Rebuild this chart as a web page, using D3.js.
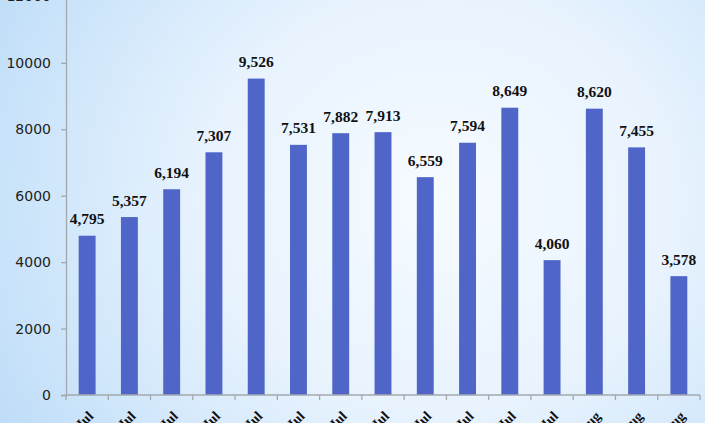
<!DOCTYPE html>
<html>
<head>
<meta charset="utf-8">
<script src="https://cdn.jsdelivr.net/npm/d3@7"></script>
<style>
  body { margin: 0; padding: 0; overflow: hidden; }
</style>
</head>
<body>
<div id="chart"></div>
<script>
var width = 705, height = 423

// data
var days = ["20-Jul", "21-Jul", "22-Jul", "23-Jul", "24-Jul", "25-Jul", "26-Jul", "27-Jul",
  "28-Jul", "29-Jul", "30-Jul", "31-Jul", "01-Aug", "02-Aug", "03-Aug"]
var counts = [4795, 5357, 6194, 7307, 9526, 7531, 7882, 7913, 6559, 7594, 8649, 4060, 8620, 7455, 3578]
var yTicks = [0, 2000, 4000, 6000, 8000, 10000, 12000]

var svg = d3.select("#chart").append("svg")
    .attr("width", width).attr("height", height)

var defs = svg.append("defs")
var grad = defs.append("radialGradient").attr("id", "bg")
    .attr("gradientUnits", "userSpaceOnUse")
    .attr("cx", 440).attr("cy", 200).attr("r", 520)
    .attr("gradientTransform", "translate(440,200) scale(1,0.9) translate(-440,-200)")
grad.append("stop").attr("offset", "0%").attr("stop-color", "#f6fbff")
grad.append("stop").attr("offset", "45%").attr("stop-color", "#e8f3fe")
grad.append("stop").attr("offset", "100%").attr("stop-color", "#bcdcf8")

svg.append("rect")
    .attr("x", 0).attr("y", 0)
    .attr("width", width).attr("height", height)
    .style("fill", "url(#bg)")

var x = d3.scaleBand()
    .domain(days)
    .range([66, 700])
    .paddingInner(0.6)
    .paddingOuter(0.3)

var y = d3.scaleLinear()
    .domain([0, 12000])
    .range([395, -3.6])

var axisColor = "#a3a8ae"

// y axis
var yAxis = svg.append("g")
    .attr("transform", "translate(66,0)")
    .call(d3.axisLeft(y).tickValues(yTicks).tickSize(5).tickPadding(10).tickFormat(d3.format("d")))
yAxis.select(".domain").attr("stroke", axisColor).attr("stroke-width", 1.3)
yAxis.selectAll(".tick line").attr("stroke", axisColor).attr("stroke-width", 1.3)
yAxis.selectAll(".tick text")
    .style("font-family", "'DejaVu Sans', sans-serif")
    .style("font-size", "14px")
    .style("fill", "#222")

// bars
svg.append("g").selectAll("rect")
    .data(counts)
    .enter().append("rect")
    .attr("x", function(d, i) { return x(days[i]) })
    .attr("y", function(d) { return y(d) })
    .attr("width", x.bandwidth())
    .attr("height", function(d) { return y(0) - y(d) })
    .style("fill", "#4f66c8")

// value labels
svg.append("g").selectAll("text")
    .data(counts)
    .enter().append("text")
    .attr("x", function(d, i) { return x(days[i]) + x.bandwidth() / 2 })
    .attr("y", function(d) { return y(d) - 11.5 })
    .attr("text-anchor", "middle")
    .style("font-family", "'Liberation Serif', 'Times New Roman', serif")
    .style("font-weight", "bold")
    .style("font-size", "15.5px")
    .style("fill", "#111")
    .text(function(d) { return d3.format(",")(d) })

// x axis with ticks between categories
var step = x.step()
var xAxis = svg.append("g")
xAxis.append("line")
    .attr("x1", 66).attr("x2", 700)
    .attr("y1", y(0)).attr("y2", y(0))
    .attr("stroke", axisColor).attr("stroke-width", 1.3)
var bounds = days.map(function(d) { return x(d) - (step - x.bandwidth()) / 2 })
bounds.push(x.range()[1])
xAxis.selectAll(".xt")
    .data(bounds)
    .enter().append("line")
    .attr("x1", function(d) { return d }).attr("x2", function(d) { return d })
    .attr("y1", y(0)).attr("y2", y(0) + 5)
    .attr("stroke", axisColor).attr("stroke-width", 1.3)

xAxis.selectAll(".xl")
    .data(days)
    .enter().append("text")
    .attr("transform", function(d) {
        return "translate(" + (x(d) + x.bandwidth() / 2 + 7) + "," + (y(0) + 22) + ") rotate(-45)"
    })
    .attr("text-anchor", "end")
    .style("font-family", "'Liberation Serif', 'Times New Roman', serif")
    .style("font-weight", "bold")
    .style("font-size", "14px")
    .style("fill", "#111")
    .text(function(d) { return d })
</script>
</body>
</html>
